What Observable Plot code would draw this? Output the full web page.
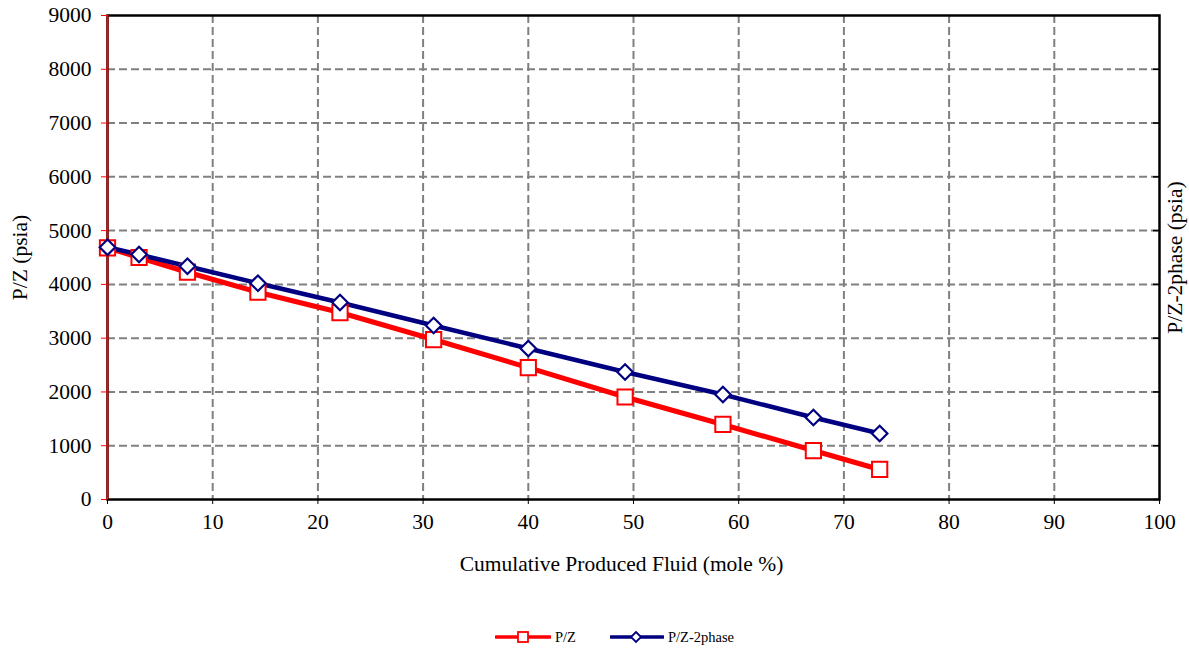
<!DOCTYPE html>
<html>
<head>
<meta charset="utf-8">
<script src="https://cdn.jsdelivr.net/npm/d3@7"></script>
<script src="https://cdn.jsdelivr.net/npm/@observablehq/plot@0.6"></script>
<style>
  html, body { margin: 0; padding: 0; background: #fff; }
  #chart svg { display: block; }
  .legend { display: flex; justify-content: center; align-items: center; height: 24px; padding-top: 15px; padding-left: 40px;
    font-family: "Liberation Serif", "Times New Roman", serif; font-size: 14.5px; color: #000; }
  .legend .item { display: flex; align-items: center; margin: 0 17px; }
  .legend svg { margin-right: 4px; }
</style>
</head>
<body>
<div id="chart"></div>
<div class="legend" id="legend"></div>
<script>
const fluid = [0, 3.0, 7.6, 14.3, 22.1, 31.0, 40.0, 49.2, 58.5, 67.1, 73.4];
const pz = [4680, 4500, 4226, 3854, 3477, 2975, 2454, 1906, 1395, 911, 558];
const pz2 = [4690, 4556, 4338, 4022, 3663, 3235, 2808, 2371, 1952, 1525, 1227];
const xTicks = [0, 10, 20, 30, 40, 50, 60, 70, 80, 90, 100];
const yTicks = [0, 1000, 2000, 3000, 4000, 5000, 6000, 7000, 8000, 9000];
const seriesNames = ["P/Z", "P/Z-2phase"];
const seriesColors = ["#ff0000", "#000080"];

const dataA = fluid.map((x, i) => ({x, y: pz[i]}));
const dataB = fluid.map((x, i) => ({x, y: pz2[i]}));

const font = "Liberation Serif";
const fs = 21.5;
const gridStyle = {stroke: "#808080", strokeOpacity: 1, strokeWidth: 2, strokeDasharray: "8,4"};

const chart = Plot.plot({
  width: 1189,
  height: 610,
  marginLeft: 107,
  marginRight: 30,
  marginTop: 15,
  marginBottom: 111,
  style: {fontSize: fs + "px", color: "#000", background: "#fff"},
  x: {domain: [0, 100]},
  y: {domain: [0, 9000]},
  marks: [
    Plot.gridX(xTicks.slice(1, -1), gridStyle),
    Plot.gridY(yTicks.slice(1, -1), gridStyle),
    Plot.frame({stroke: "#000", strokeWidth: 2.5}),
    Plot.ruleX([0], {stroke: "#ff0000", strokeWidth: 1.8}),
    Plot.axisX({ticks: xTicks, tickSize: 5, tickPadding: 9, tickFormat: d => String(d), stroke: "#000", label: null, fontSize: fs}),
    Plot.axisY({ticks: yTicks, tickSize: 6, tickPadding: 10, tickFormat: d => String(d), stroke: "#ff0000",
      label: "P/Z (psia)", labelAnchor: "center", labelArrow: "none", labelOffset: 96, fontSize: fs}),
    Plot.axisY({anchor: "right", ticks: yTicks, tickSize: -7, strokeWidth: 1.5, tickFormat: () => "", stroke: "#000",
      label: "P/Z-2phase (psia)", labelAnchor: "center", labelArrow: "none", labelOffset: 22, fontSize: fs}),
    Plot.text(["Cumulative Produced Fluid (mole %)"], {frameAnchor: "bottom", dy: 71, dx: -12, fontSize: fs, fill: "#000"}),
    Plot.line(dataA, {x: "x", y: "y", stroke: seriesColors[0], strokeWidth: 5}),
    Plot.line(dataB, {x: "x", y: "y", stroke: seriesColors[1], strokeWidth: 4.5}),
    Plot.dot(dataA, {x: "x", y: "y", symbol: "square", r: 8.6, fill: "#fff", stroke: seriesColors[0], strokeWidth: 2}),
    Plot.dot(dataB, {x: "x", y: "y", symbol: "diamond2", r: 7, fill: "#fff", stroke: seriesColors[1], strokeWidth: 2.2})
  ]
});
chart.setAttribute("font-family", font);
chart.style.fontFamily = font;
chart.querySelectorAll("g, text").forEach(el => {
  if (el.hasAttribute("font-family")) el.setAttribute("font-family", font);
});
chart.querySelectorAll("text").forEach(el => { el.style.fontFamily = font; });
document.getElementById("chart").appendChild(chart);

const legend = document.getElementById("legend");
const shapes = [
  '<rect x="23" y="4" width="10" height="10" fill="#fff" stroke="#ff0000" stroke-width="1.8"/>',
  '<path d="M27,4 L32,9 L27,14 L22,9 Z" fill="#fff" stroke="#000080" stroke-width="1.8"/>'
];
seriesNames.forEach((name, i) => {
  const item = document.createElement("div");
  item.className = "item";
  const w = i === 0 ? 56 : 54;
  item.innerHTML = `<svg width="${w}" height="18"><line x1="1" y1="9" x2="${w - 1}" y2="9" stroke="${seriesColors[i]}" stroke-width="3.5" stroke-linecap="round"/>` +
    shapes[i].replace(/23|27|32|22/g, m => String(+m + (w / 2 - 28))) + `</svg><span>${name}</span>`;
  legend.appendChild(item);
});
</script>
</body>
</html>
